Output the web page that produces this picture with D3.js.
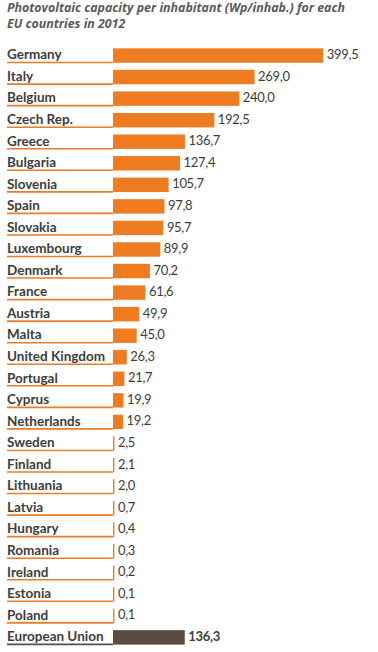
<!DOCTYPE html>
<html>
<head>
<meta charset="utf-8">
<script src="https://cdn.jsdelivr.net/npm/d3@7"></script>
<style>
  html, body { margin: 0; padding: 0; background: #fff; }
  svg { display: block; }
</style>
</head>
<body>
<script>
const titleLines = ["Photovoltaic capacity per inhabitant (Wp/inhab.) for each", "EU countries in 2012"];
const countries = ["Germany","Italy","Belgium","Czech Rep.","Greece","Bulgaria","Slovenia","Spain","Slovakia","Luxembourg","Denmark","France","Austria","Malta","United Kingdom","Portugal","Cyprus","Netherlands","Sweden","Finland","Lithuania","Latvia","Hungary","Romania","Ireland","Estonia","Poland","European Union"];
const values = [399.5,269.0,240.0,192.5,136.7,127.4,105.7,97.8,95.7,89.9,70.2,61.6,49.9,45.0,26.3,21.7,19.9,19.2,2.5,2.1,2.0,0.7,0.4,0.3,0.2,0.1,0.1,136.3];
const totalLabel = "European Union";

const W = 378, H = 652;
const orange = "#F07C22", brown = "#5B4B40", textCol = "#3d3d3d";

const data = countries.map((c, i) => ({ name: c, value: values[i], total: c === totalLabel }));

const svg = d3.select("body").append("svg").attr("width", W).attr("height", H);

svg.append("g").selectAll("text").data(titleLines).join("text")
  .attr("x", 7).attr("y", (d, i) => 12 + i * 15.5)
  .attr("font-family", "'Open Sans', sans-serif")
  .attr("font-style", "italic").attr("font-weight", 700)
  .attr("font-size", 12.4).attr("fill", "#5a5a5a")
  .text(d => d);

const x = d3.scaleLinear().domain([0, 399.5]).range([113, 323.3]);
const y = d3.scaleBand().domain(countries).range([41.2, 651.7]).padding(0.33);
const fmt = v => d3.format(".1f")(v).replace(".", ",");

const row = svg.append("g").selectAll("g").data(data).join("g");

row.append("line")
  .attr("x1", 7).attr("x2", x(0))
  .attr("y1", d => y(d.name) + y.bandwidth() - 0.2)
  .attr("y2", d => y(d.name) + y.bandwidth() - 0.2)
  .attr("stroke", d => d.total ? brown : orange).attr("stroke-width", 1.6);

row.append("rect")
  .attr("x", x(0)).attr("y", d => y(d.name))
  .attr("width", d => Math.max(x(d.value) - x(0), 1.4))
  .attr("height", y.bandwidth())
  .attr("fill", d => d.total ? brown : orange);

row.append("text")
  .attr("x", 7).attr("y", d => y(d.name) + y.bandwidth() / 2 + 3.8)
  .attr("font-family", "Lato, sans-serif").attr("font-weight", 700)
  .attr("font-size", 13.5).attr("fill", textCol)
  .text(d => d.name);

row.append("text")
  .attr("x", d => Math.max(x(d.value), x(0) + 1.4) + 3.5)
  .attr("y", d => y(d.name) + y.bandwidth() / 2 + 3.6)
  .attr("font-family", "Lato, sans-serif")
  .attr("font-weight", d => d.total ? 700 : 400)
  .attr("font-size", 13).attr("letter-spacing", -0.3).attr("fill", textCol)
  .text(d => fmt(d.value));
</script>
</body>
</html>
